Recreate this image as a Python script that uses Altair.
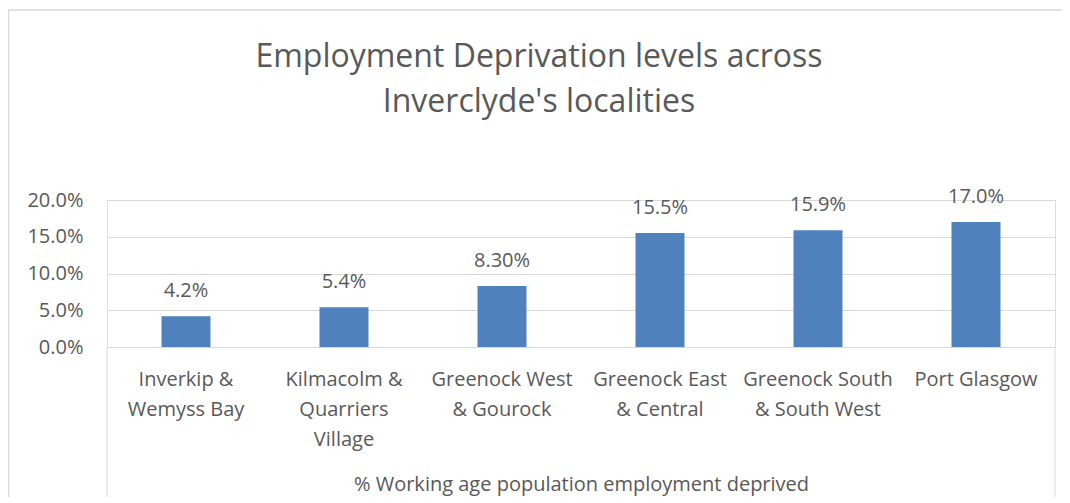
import altair as alt
import pandas as pd

categories = [
    "Inverkip &|Wemyss Bay",
    "Kilmacolm &|Quarriers|Village",
    "Greenock West|& Gourock",
    "Greenock East|& Central",
    "Greenock South|& South West",
    "Port Glasgow",
]
values = [4.2, 5.4, 8.3, 15.5, 15.9, 17.0]
value_labels = ["4.2%", "5.4%", "8.30%", "15.5%", "15.9%", "17.0%"]
y_ticks = [0, 5, 10, 15, 20]
title_lines = ["Employment Deprivation levels across", "Inverclyde's localities"]
group_label = "% Working age population employment deprived"

df = pd.DataFrame({"cat": categories, "val": values, "lab": value_labels})

TXT = "#595959"
GRID = "#D9D9D9"
FONT = "Open Sans"
W, H = 948, 147

x_enc = alt.X(
    "cat:N",
    sort=categories,
    scale=alt.Scale(paddingInner=0, paddingOuter=0),
    axis=alt.Axis(
        title=group_label,
        labelExpr="split(datum.label, '|')",
        labelAngle=0,
        labelFont=FONT,
        labelFontSize=20,
        labelColor=TXT,
        labelLineHeight=30,
        labelBaseline="top",
        labelPadding=22,
        ticks=False,
        tickSize=0,
        domain=True,
        domainColor=GRID,
        grid=False,
        titleFont=FONT,
        titleFontSize=20,
        titleFontWeight="normal",
        titleColor=TXT,
        titleBaseline="alphabetic",
        titleY=143,
        labelLimit=300,
        labelOverlap=False,
    ),
)
y_enc = alt.Y(
    "val:Q",
    scale=alt.Scale(domain=[0, 20], nice=False),
    axis=alt.Axis(
        title=None,
        values=y_ticks,
        tickCount=10,
        labelExpr="format(datum.value, '.1f') + '%'",
        labelFont=FONT,
        labelFontSize=20,
        labelColor=TXT,
        labelPadding=24,
        labelOverlap=False,
        ticks=False,
        domain=False,
        grid=True,
        gridColor=GRID,
        gridWidth=1,
    ),
)

base = alt.Chart(df)
bars = base.mark_bar(color="#4F81BD", width=alt.RelativeBandSize(0.31)).encode(x=x_enc, y=y_enc)
labels = base.mark_text(
    font=FONT, fontSize=20, color=TXT, baseline="alphabetic", dy=-19
).encode(x=x_enc, y=y_enc, text="lab:N")

frame_df = pd.DataFrame({"k": [0]})
fb = alt.Chart(frame_df)
frame_left = fb.mark_rule(color=GRID, strokeWidth=1.5).encode(
    x=alt.value(-98.5), y=alt.value(-190), y2=alt.value(H + 200)
)
frame_top = fb.mark_rule(color=GRID, strokeWidth=1.5).encode(
    x=alt.value(-99), x2=alt.value(W + 200), y=alt.value(-190)
)
side_left = fb.mark_rule(color=GRID, strokeWidth=1).encode(
    x=alt.value(0), y=alt.value(H), y2=alt.value(H + 200)
)
side_right = fb.mark_rule(color=GRID, strokeWidth=1).encode(
    x=alt.value(W), y=alt.value(H), y2=alt.value(H + 200)
)

chart = (
    alt.layer(bars, labels, frame_left, frame_top, side_left, side_right)
    .properties(
        width=W,
        height=H,
        autosize=alt.AutoSizeParams(type="none"),
        padding={"left": 99, "top": 192, "right": 7, "bottom": 150},
        title=alt.TitleParams(
            text=title_lines,
            anchor="middle",
            frame="group",
            font=FONT,
            fontSize=32,
            fontWeight="normal",
            color=TXT,
            lineHeight=45,
            baseline="top",
            offset=-110,
            dx=-42,
        ),
    )
    .configure_view(stroke=None)
    .configure(background="white")
)

chart.save("out.html", embed_options={"renderer": "svg", "actions": False})
